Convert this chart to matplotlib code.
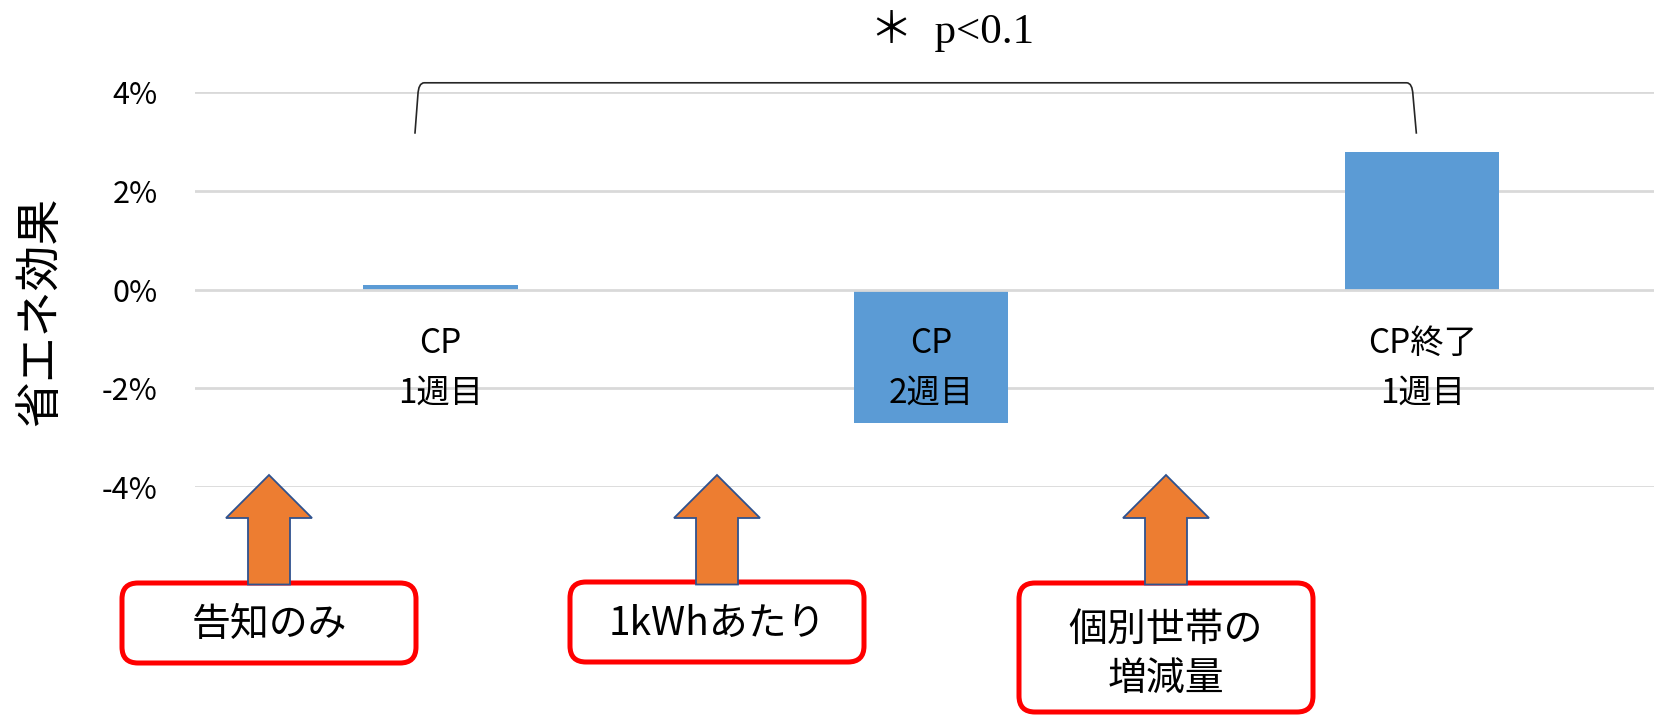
import matplotlib
matplotlib.use("Agg")
import matplotlib.pyplot as plt
from matplotlib.patches import Polygon, FancyBboxPatch, PathPatch
from matplotlib.path import Path
from matplotlib.ticker import FuncFormatter

plt.rcParams["font.family"] = ["Noto Sans CJK JP", "DejaVu Sans"]
plt.rcParams["axes.unicode_minus"] = False

# --- data -------------------------------------------------------------
categories = ["CP\n1週目", "CP\n2週目", "CP終了\n1週目"]
effect_pct = [0.09, -2.70, 2.79]
y_ticks = [-4, -2, 0, 2, 4]
y_label = "省エネ効果"
sig_label = "＊  p<0.1"
measure_labels = ["告知のみ", "1kWhあたり", "個別世帯の\n増減量"]

# --- style ------------------------------------------------------------
BAR_COLOR = "#5B9BD5"
GRID_COLOR = "#D9D9D9"
ARROW_FILL = "#ED7D31"
ARROW_EDGE = "#2F528F"
BOX_EDGE = "#FF0000"
BRACKET_COLOR = "#262626"

W, H = 1654, 715          # output size in pixels (dpi 100)
PLOT_L, PLOT_T, PLOT_B = 195, 91.7, 487.3

fig = plt.figure(figsize=(W / 100, H / 100), dpi=100)
ax = fig.add_axes([PLOT_L / W, 1 - PLOT_B / H, (W - PLOT_L) / W, (PLOT_B - PLOT_T) / H])

xs = list(range(len(categories)))
ax.bar(xs, effect_pct, width=0.314, color=BAR_COLOR, zorder=2)
ax.set_xlim(-0.5, 2.472)
ax.set_ylim(min(y_ticks), max(y_ticks))
ax.set_yticks(y_ticks)
ax.yaxis.set_major_formatter(FuncFormatter(lambda v, _: f"{v:.0f}%"))
# tick labels above the bars (the middle label sits inside a bar)
ax.set_axisbelow(False)
# gridlines sit behind the bars, the zero (category) axis line on top
for t in y_ticks:
    ax.axhline(t, color=GRID_COLOR, lw=2, zorder=2.2 if t == 0 else 0.5)
for s in ax.spines.values():
    s.set_visible(False)
# category labels hang just under the zero line
ax.spines["bottom"].set_position(("data", 0))
ax.set_xticks(xs)
ax.set_xticklabels(categories, fontsize=24, linespacing=1.55)
ax.tick_params(axis="x", length=0, pad=26)
ax.tick_params(axis="y", length=0, pad=27, labelsize=22)

# significance bracket between the first and last bars
lo, hi = 3.15, 4.18
lx0, lx1 = xs[0] - 0.052, xs[0] - 0.045
rx0, rx1 = xs[-1] - 0.020, xs[-1] - 0.012
verts = [(lx0, lo), (lx1 - 0.001, hi - 0.25), (lx1, hi), (lx1 + 0.012, hi),
         (rx0 - 0.012, hi), (rx0, hi), (rx0 + 0.001, hi - 0.25), (rx1, lo)]
codes = [Path.MOVETO, Path.LINETO, Path.CURVE3, Path.CURVE3,
         Path.LINETO, Path.CURVE3, Path.CURVE3, Path.LINETO]
ax.add_patch(PathPatch(Path(verts, codes), fill=False, ec=BRACKET_COLOR,
                       lw=1.2, clip_on=False, zorder=3))

fig.text(40 / W, 1 - 311 / H, y_label, rotation=90, fontsize=33,
         ha="center", va="center")

# --- overlay in pixel units for the callouts ---------------------------
ov = fig.add_axes([0, 0, 1, 1], zorder=3)
ov.set_xlim(0, W)
ov.set_ylim(H, 0)
ov.axis("off")

ov.text(870, 31, sig_label, fontsize=31, ha="left", va="center",
        family=["Liberation Serif", "Noto Sans CJK JP"])

note_x = [269, 717, 1166]
box_top = [583, 582, 583]
box_h = [80, 80, 129]
box_w = 294
for cx, top, h, label in zip(note_x, box_top, box_h, measure_labels):
    ov.add_patch(FancyBboxPatch((cx - box_w / 2, top), box_w, h,
                                boxstyle="round,pad=0,rounding_size=16",
                                fc="white", ec=BOX_EDGE, lw=3.6))
    ov.text(cx, top + h / 2 + (7 if "\n" in label else 2), label, fontsize=28,
            ha="center", va="center", linespacing=1.3)
    tip, base, bottom = 475, 518, 584.5
    head, shaft = 86, 42
    pts = [(cx, tip), (cx + head / 2, base), (cx + shaft / 2, base),
           (cx + shaft / 2, bottom), (cx - shaft / 2, bottom),
           (cx - shaft / 2, base), (cx - head / 2, base)]
    ov.add_patch(Polygon(pts, closed=True, fc=ARROW_FILL, ec=ARROW_EDGE,
                         lw=1.3, joinstyle="miter"))

fig.savefig("out.png", dpi=100)
